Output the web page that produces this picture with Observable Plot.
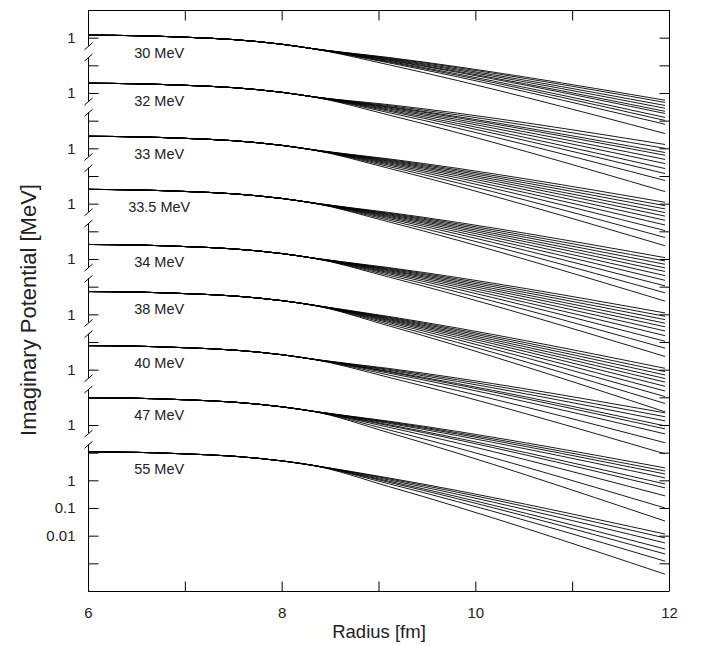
<!DOCTYPE html>
<html><head><meta charset="utf-8">
<script src="https://cdn.jsdelivr.net/npm/d3@7"></script>
<script src="https://cdn.jsdelivr.net/npm/@observablehq/plot@0.6"></script>
<style>body{margin:0;background:#fff}</style>
</head><body><div id="chart"></div>
<script>
// ---- data (values in MeV) ----
const energies = ["30 MeV","32 MeV","33 MeV","33.5 MeV","34 MeV","38 MeV","40 MeV","47 MeV","55 MeV"];
const radiusTicks = [6,7,8,9,10,11,12];
const radiusLabels = [6,8,10,12];
const headRadius = [6, 6.5, 7, 7.5, 8, 8.3];   // common part of every family
const tailRadius = [9.1, 11.95];              // where the curves of a family fan out

const head30  = [1.285, 1.227, 1.081, 0.889, 0.601, 0.425];
const head32  = [2.35, 2.244, 1.976, 1.626, 1.100, 0.778];
const head33  = [2.84, 2.712, 2.388, 1.965, 1.329, 0.940];
const head335 = [3.42, 3.266, 2.876, 2.367, 1.601, 1.132];
const head34  = [3.49, 3.333, 2.935, 2.415, 1.633, 1.155];
const head38  = [6.95, 6.637, 5.845, 4.809, 3.253, 2.300];
const head40  = [7.70, 7.354, 6.476, 5.328, 3.604, 2.549];
const head47  = [10.1, 9.646, 8.494, 6.989, 4.727, 3.343];
const head55  = [11.2, 10.70, 9.419, 7.750, 5.242, 3.707];

// each row: [value at 9.1 fm, value at 11.95 fm]
const tail30 = [[0.2004,5.75e-3],[0.1923,4.79e-3],[0.1820,3.72e-3],[0.1730,2.95e-3],[0.1633,2.29e-3],[0.1567,1.91e-3],[0.1459,1.38e-3],[0.1380,1.07e-3],[0.1285,7.8e-4],[0.1094,3.6e-4]];
const tail32 = [[0.396,1.445e-2],[0.3664,1.047e-2],[0.3388,7.41e-3],[0.3221,5.89e-3],[0.2985,4.17e-3],[0.2761,2.95e-3],[0.2518,1.95e-3],[0.2301,1.29e-3],[0.2037,7.24e-4],[0.1675,2.88e-4]];
const tail33 = [[0.4345,1.175e-2],[0.4083,8.91e-3],[0.3846,6.76e-3],[0.3597,5.01e-3],[0.3365,3.72e-3],[0.3119,2.63e-3],[0.2858,1.78e-3],[0.2594,1.12e-3],[0.2296,6.31e-4],[0.1982,3.16e-4]];
const tail335 = [[0.5023,1.175e-2],[0.4732,8.91e-3],[0.4446,6.76e-3],[0.4159,5.01e-3],[0.3890,3.72e-3],[0.3606,2.63e-3],[0.3311,1.78e-3],[0.3006,1.12e-3],[0.2655,6.31e-4],[0.2296,3.16e-4]];
const tail34 = [[0.5105,1.175e-2],[0.4808,8.91e-3],[0.4519,6.76e-3],[0.4227,5.01e-3],[0.3954,3.72e-3],[0.3664,2.63e-3],[0.3365,1.78e-3],[0.3055,1.12e-3],[0.2698,6.31e-4],[0.2333,3.16e-4]];
const tail38 = [[0.873,1.175e-2],[0.820,8.91e-3],[0.773,6.76e-3],[0.723,5.01e-3],[0.676,3.72e-3],[0.630,2.63e-3],[0.579,1.78e-3],[0.525,1.12e-3],[0.4645,6.31e-4],[0.4018,3.16e-4]];
const tail40 = [[1.156,2.88e-2],[1.076,2.09e-2],[0.9954,1.48e-2],[0.908,9.77e-3],[0.859,7.59e-3],[0.7834,5.01e-3],[0.6699,2.40e-3],[0.5508,9.55e-4]];
const tail47 = [[1.435,2.95e-2],[1.355,2.29e-2],[1.282,1.78e-2],[1.194,1.29e-2],[1.067,7.76e-3],[0.993,5.62e-3],[0.863,2.88e-3],[0.695,1.05e-3],[0.553,3.55e-4]];
const tail55 = [[1.274,1.20e-2],[1.186,8.71e-3],[1.084,5.75e-3],[0.973,3.47e-3],[0.891,2.29e-3],[0.785,1.26e-3],[0.624,4.27e-4]];

const heads = [head30, head32, head33, head335, head34, head38, head40, head47, head55];
const tails = [tail30, tail32, tail33, tail335, tail34, tail38, tail40, tail47, tail55];

// left-axis ticks inside each stacked panel (MeV)
const panelTickValues = [1, 10];
const bottomTickValues = [10, 1, 0.1, 0.01, 0.001];
const bottomTickLabels = ["", "1", "0.1", "0.01", ""];

// ---- build tables ----
const nG = energies.length;
const groups = energies.map((e, g) => ({energy: e, head: heads[g], tail: tails[g], offset: Math.pow(10, 2 * (nG - 1 - g))}));
const yMin = 1e-4, yMax = 1e17;

const lineData = [];
groups.forEach((G, g) => {
  G.tail.forEach((t, i) => {
    const id = g + "-" + i;
    headRadius.forEach((r, j) => lineData.push({id, r, v: G.head[j] * G.offset}));
    tailRadius.forEach((r, k) => lineData.push({id, r, v: t[k] * G.offset}));
  });
});

const leftTicks = [], leftLabels = [], segments = [], breaks = [];
groups.forEach((G, g) => {
  const last = g === nG - 1;
  const vals = last ? bottomTickValues : panelTickValues;
  vals.forEach((v, k) => {
    const y = v * G.offset;
    if (y < yMax) leftTicks.push(y);
    const lab = last ? bottomTickLabels[k] : (v === 1 ? "1" : "");
    if (lab) leftLabels.push({y, label: lab});
  });
  const top = g === 0 ? yMax : 20 * G.offset;
  const bottom = last ? yMin : 0.51 * G.offset;
  segments.push({top, bottom});
  if (g !== 0) breaks.push(top);
  if (!last) breaks.push(bottom);
});
const rightTicks = d3.range(-3, 17).map(e => Math.pow(10, e));

// custom symbols (pixel-sized tick marks and break marks)
const sym = f => ({draw(ctx) { f(ctx); }});
const tickL = sym(c => { c.moveTo(0, 0); c.lineTo(10, 0); });
const tickR = sym(c => { c.moveTo(0, 0); c.lineTo(-10, 0); });
const tickB = sym(c => { c.moveTo(0, 0); c.lineTo(0, -10); });
const tickT = sym(c => { c.moveTo(0, 0); c.lineTo(0, 10); });
const slash = sym(c => { c.moveTo(-4, 3.5); c.lineTo(4, -3.5); });

const font = "'Liberation Sans', Arial, Helvetica, sans-serif";

const chart = Plot.plot({
  width: 712, height: 646,
  marginLeft: 88, marginRight: 43, marginTop: 10, marginBottom: 55,
  style: {fontFamily: font, background: "white", color: "black"},
  x: {domain: [6, 12], axis: null},
  y: {type: "log", domain: [yMin, yMax], axis: null},
  marks: [
    Plot.line(lineData, {x: "r", y: "v", z: "id", curve: "monotone-x", stroke: "black", strokeWidth: 0.9}),
    // frame: top, bottom, right
    Plot.ruleY([yMin, yMax], {stroke: "black", strokeWidth: 1}),
    Plot.ruleX([12], {stroke: "black", strokeWidth: 1}),
    // broken left axis
    Plot.ruleX(segments, {x: 6, y1: "top", y2: "bottom", stroke: "black", strokeWidth: 1}),
    Plot.dot(breaks, {x: 6, y: d => d, symbol: slash, fill: "none", stroke: "black", strokeWidth: 1}),
    Plot.dot(leftTicks, {x: 6, y: d => d, symbol: tickL, fill: "none", stroke: "black", strokeWidth: 1}),
    Plot.dot(rightTicks, {x: 12, y: d => d, symbol: tickR, fill: "none", stroke: "black", strokeWidth: 1}),
    Plot.dot(radiusTicks, {x: d => d, y: yMin, symbol: tickB, fill: "none", stroke: "black", strokeWidth: 1}),
    Plot.dot(radiusTicks, {x: d => d, y: yMax, symbol: tickT, fill: "none", stroke: "black", strokeWidth: 1}),
    // tick labels
    Plot.text(leftLabels, {x: 6, y: "y", text: "label", textAnchor: "end", dx: -13, fontSize: 15, fill: "#222"}),
    Plot.text(radiusLabels, {x: d => d, frameAnchor: "bottom", text: d => String(d), dy: 26, lineAnchor: "bottom", fontSize: 15, fill: "#222"}),
    // energy labels
    Plot.text(groups, {x: 6.73, y: d => d.head[0] * d.offset, text: "energy", dy: 18, fontSize: 14.5, fill: "#222"}),
    // axis titles
    Plot.text(["Radius [fm]"], {frameAnchor: "bottom", textAnchor: "middle", dy: 46, lineAnchor: "bottom", fontSize: 18.5, fill: "#222"}),
    Plot.text(["Imaginary Potential [MeV]"], {frameAnchor: "left", textAnchor: "middle", rotate: -90, dx: -60, dy: 9, fontSize: 22, fill: "#222"})
  ]
});
document.getElementById("chart").appendChild(chart);
</script>
</body></html>
